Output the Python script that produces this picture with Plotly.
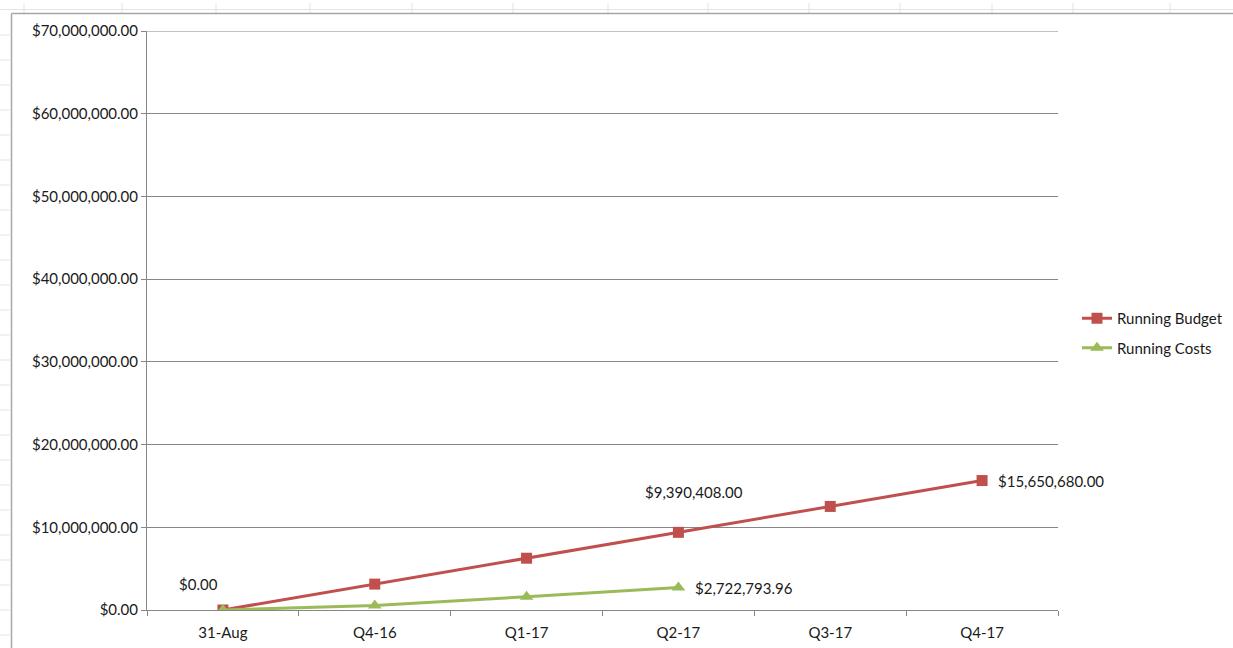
import plotly.graph_objects as go

categories = ["31-Aug", "Q4-16", "Q1-17", "Q2-17", "Q3-17", "Q4-17"]
running_budget = [0, 3130136, 6260272, 9390408, 12520544, 15650680]
running_costs = [0, 550000, 1600000, 2722793.96]
budget_label_idx = [0, 3, 5]
costs_label_idx = [3]
y_ticks = [0, 10e6, 20e6, 30e6, 40e6, 50e6, 60e6, 70e6]

W, H = 1233, 648
L, R, T, B = 147, 1058, 31, 610
FONT = "Lato, 'Open Sans', sans-serif"
FS = 15
RED = "#C0504D"
GREEN = "#9BBB59"
TXT = "#1a1a1a"
GRID = "#868686"


def px(x):
    return (x - L) / (R - L)


def py(y):
    return (B - y) / (B - T)


fig = go.Figure()
fig.add_trace(go.Scatter(
    x=categories, y=running_budget, name="Running Budget",
    mode="lines+markers", legendgroup="a",
    line=dict(color=RED, width=3),
    marker=dict(symbol="square", size=11, color=RED),
))
fig.add_trace(go.Scatter(
    x=categories[:len(running_costs)], y=running_costs, name="Running Costs",
    mode="lines+markers", legendgroup="b",
    line=dict(color=GREEN, width=3),
    marker=dict(symbol="triangle-up", size=12, color=GREEN),
))

annotations = []
budget_offsets = {0: (-24, 26), 3: (16, 40), 5: (14, 0)}
budget_anchor = {0: "center", 3: "center", 5: "left"}
for i in budget_label_idx:
    dx, dy = budget_offsets[i]
    annotations.append(dict(
        x=categories[i], y=running_budget[i], xref="x", yref="y",
        text="${:,.2f}".format(running_budget[i]), showarrow=False,
        xanchor=budget_anchor[i], yanchor="middle", xshift=dx, yshift=dy,
        font=dict(family=FONT, size=FS, color=TXT),
    ))
for i in costs_label_idx:
    annotations.append(dict(
        x=categories[i], y=running_costs[i], xref="x", yref="y",
        text="${:,.2f}".format(running_costs[i]), showarrow=False,
        xanchor="left", yanchor="middle", xshift=15, yshift=-1,
        font=dict(family=FONT, size=FS, color=TXT),
    ))

# spreadsheet background decoration and chart frame
shapes = []
grid_c = "#e3e3e3"
shapes.append(dict(type="line", xref="paper", yref="paper",
                   x0=px(0), x1=px(W), y0=py(9.5), y1=py(9.5),
                   line=dict(color=grid_c, width=1)))
for cx in [24, 122, 216, 310, 412, 513, 608, 708, 809, 900, 992, 1073, 1170]:
    shapes.append(dict(type="line", xref="paper", yref="paper",
                       x0=px(cx), x1=px(cx), y0=py(3), y1=py(13),
                       line=dict(color=grid_c, width=1)))
for ry in range(35, 648, 25):
    shapes.append(dict(type="line", xref="paper", yref="paper",
                       x0=px(0), x1=px(10), y0=py(ry), y1=py(ry),
                       line=dict(color=grid_c, width=1)))
shapes.append(dict(type="line", xref="paper", yref="paper",
                   x0=px(11.5), x1=px(W), y0=py(13.5), y1=py(13.5),
                   line=dict(color="#a6a6a6", width=1.5)))
shapes.append(dict(type="line", xref="paper", yref="paper",
                   x0=px(11.5), x1=px(11.5), y0=py(13.5), y1=py(H),
                   line=dict(color="#a6a6a6", width=1.5)))
# top gridline (at the last y tick), which plotly hides at the plot edge
shapes.append(dict(type="line", xref="paper", yref="y",
                   x0=0, x1=1, y0=y_ticks[-1], y1=y_ticks[-1],
                   line=dict(color=GRID, width=1), layer="below"))

fig.update_layout(
    width=W, height=H,
    margin=dict(l=L, r=W - R, t=T, b=H - B),
    paper_bgcolor="white", plot_bgcolor="white",
    font=dict(family=FONT, size=FS, color=TXT),
    showlegend=True,
    legend=dict(xref="container", yref="container",
                x=1077 / W, y=1 - 302 / H, xanchor="left", yanchor="top",
                traceorder="grouped", tracegroupgap=7,
                font=dict(family=FONT, size=FS, color=TXT),
                bgcolor="rgba(0,0,0,0)"),
    annotations=annotations,
    shapes=shapes,
)
fig.update_xaxes(
    type="category", range=[-0.5, len(categories) - 0.5], automargin=False,
    showgrid=False, showline=True, linecolor=GRID,
    linewidth=1, ticks="outside", tickson="boundaries", ticklen=5,
    tickcolor=GRID, zeroline=False, ticklabelstandoff=9,
    tickfont=dict(family=FONT, size=FS, color=TXT),
)
fig.update_yaxes(
    range=[0, 70e6], tickvals=y_ticks, tickformat="$,.2f", automargin=False,
    showgrid=True, gridcolor=GRID, gridwidth=1,
    showline=True, linecolor=GRID, linewidth=1,
    ticks="outside", ticklen=5, tickcolor=GRID, zeroline=False,
    tickfont=dict(family=FONT, size=FS, color=TXT),
)

fig.write_html("out.html")
